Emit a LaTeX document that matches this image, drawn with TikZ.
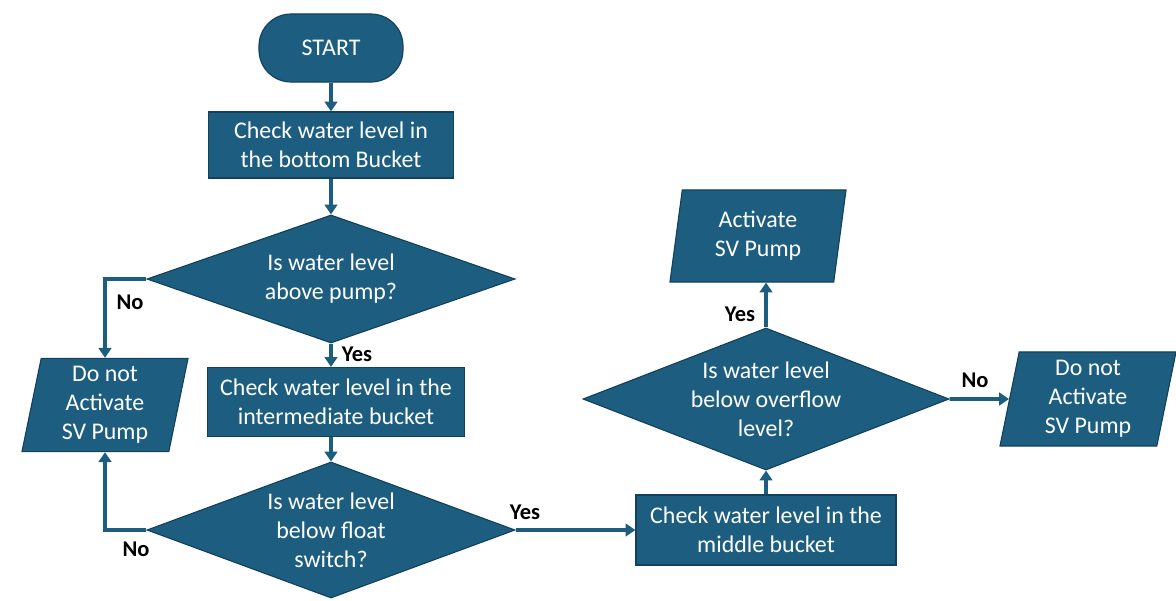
\documentclass[tikz,border=0pt]{standalone}
\usepackage{fontspec}
\setmainfont{Carlito}
\usetikzlibrary{shapes.geometric, arrows.meta}
\definecolor{flow-blue}{HTML}{1D5E80}
\definecolor{flow-edge}{HTML}{12415C}

\begin{document}
\begin{tikzpicture}[x=0.025cm, y=-0.025cm,
      every node/.style={font=\fontsize{17}{20.6}\selectfont},
      blk/.style={draw=flow-edge, fill=flow-blue, text=white, line width=0.8pt,
                  align=center, inner sep=0pt},
      proc/.style={blk, rectangle},
      decide/.style={blk, diamond},
      dtext/.style={label={[align=center, text=white]center:#1}},
      io/.style={blk, trapezium, trapezium left angle=76, trapezium right angle=104,
                 trapezium stretches body},
      lbl/.style={font=\fontsize{16}{19}\selectfont\bfseries, text=black},
      arr/.style={draw=flow-blue, line width=2.8pt, -{Triangle[length=7pt, width=9pt]}}]
    \useasboundingbox (0,0) rectangle (1176,600);

    \node[blk, rounded corners=0.8cm, minimum width=3.6cm, minimum height=1.7cm]
          (start) at (331,48) {START};
    \node[proc, minimum width=6.125cm, minimum height=1.65cm]
          (bottom) at (331,145) {Check water level in\\the bottom Bucket};
    \node[decide, minimum width=9.2cm, minimum height=3.2cm,
          dtext={Is water level\\above pump?}] (pumpq) at (331,279) {};
    \node[proc, minimum width=6.425cm, minimum height=1.725cm]
          (inter) at (336,402) {Check water level in the\\intermediate bucket};
    \node[decide, minimum width=9.2cm, minimum height=3.4cm,
          dtext={Is water level\\below float\\switch?}] (floatq) at (331,530) {};
    \node[io, minimum width=4.15cm, minimum height=2.33cm]
          (offleft) at (105,405) {Do not\\Activate\\SV Pump};
    \node[proc, minimum width=6.5cm, minimum height=1.75cm]
          (middle) at (766,530) {Check water level in the\\middle bucket};
    \node[decide, minimum width=9.15cm, minimum height=3.55cm,
          dtext={Is water level\\below overflow\\level?}] (overq) at (766,399) {};
    \node[io, minimum width=4.4cm, minimum height=2.3cm]
          (on) at (758,236) {Activate\\SV Pump};
    \node[io, minimum width=4.4cm, minimum height=2.35cm]
          (offright) at (1088,399) {Do not\\Activate\\SV Pump};

    \draw[arr] (start) -- (bottom);
    \draw[arr] (bottom) -- (pumpq);
    \draw[arr] (pumpq.south) -- (pumpq.south |- inter.north);
    \draw[arr] (inter.south -| floatq.north) -- (floatq.north);
    \draw[arr] (pumpq.west) -| (offleft.north);
    \draw[arr] (floatq.west) -| (offleft.south);
    \draw[arr] (floatq.east) -- (middle.west);
    \draw[arr] (middle.north -| overq.south) -- (overq.south);
    \draw[arr] (overq.north) -- (overq.north |- on.south);
    \draw[arr] (overq.east) -- (offright);

    \node[lbl] (yes1) at (357,354) {Yes};
    \node[lbl] (no1) at (130,302) {No};
    \node[lbl] (no2) at (136,549) {No};
    \node[lbl] (yes2) at (525,512) {Yes};
    \node[lbl] (yes3) at (740,314) {Yes};
    \node[lbl] (no3) at (975,380) {No};
  \end{tikzpicture}
\end{document}
